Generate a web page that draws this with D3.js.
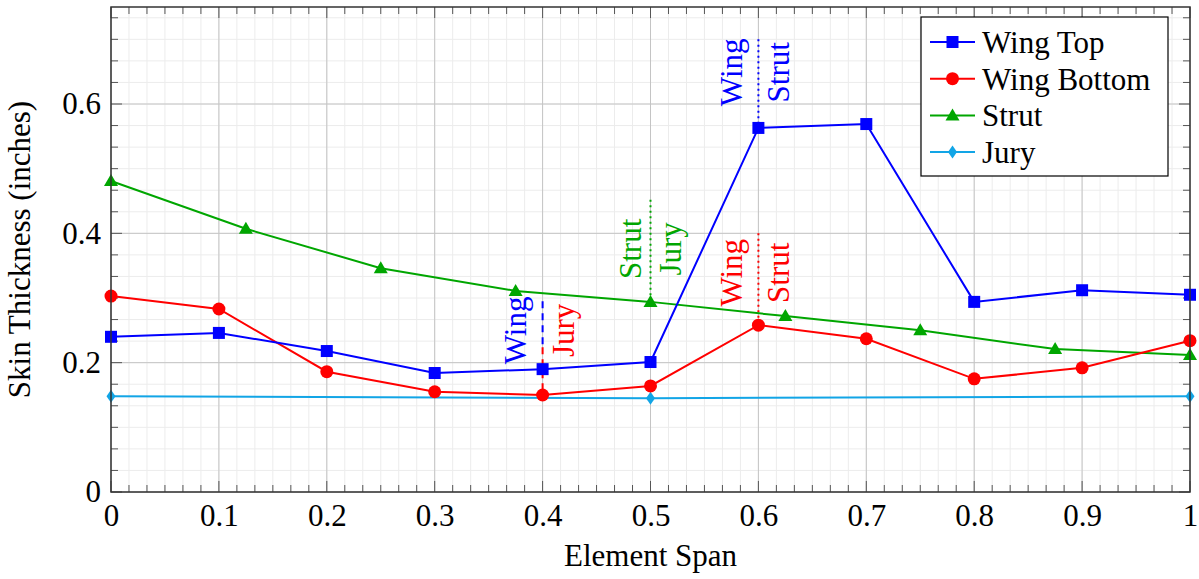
<!DOCTYPE html>
<html>
<head>
<meta charset="utf-8">
<script src="https://cdn.jsdelivr.net/npm/d3@7"></script>
<style>
  html, body { margin: 0; padding: 0; background: #fff; }
  svg { display: block; font-family: "Liberation Serif", "Times New Roman", serif; }
</style>
</head>
<body>
<svg id="chart" width="1199" height="579"></svg>
<script>
// ---------- data ----------
const wingX = [0, 0.1, 0.2, 0.3, 0.4, 0.5, 0.6, 0.7, 0.8, 0.9, 1.0];
const wingTop = [0.240, 0.246, 0.218, 0.184, 0.190, 0.201, 0.563, 0.569, 0.294, 0.312, 0.305];
const wingBottom = [0.303, 0.283, 0.186, 0.155, 0.150, 0.164, 0.258, 0.237, 0.175, 0.192, 0.234];
const strutX = [0, 0.125, 0.25, 0.375, 0.5, 0.625, 0.75, 0.875, 1.0];
const strut = [0.481, 0.407, 0.346, 0.311, 0.294, 0.272, 0.250, 0.221, 0.212];
const juryX = [0, 0.5, 1.0];
const jury = [0.148, 0.145, 0.148];

const xTickValues = [0, 0.1, 0.2, 0.3, 0.4, 0.5, 0.6, 0.7, 0.8, 0.9, 1];
const xTickLabels = ["0", "0.1", "0.2", "0.3", "0.4", "0.5", "0.6", "0.7", "0.8", "0.9", "1"];
const yTickValues = [0, 0.2, 0.4, 0.6];
const yTickLabels = ["0", "0.2", "0.4", "0.6"];

const seriesNames = ["Wing Top", "Wing Bottom", "Strut", "Jury"];
const seriesColors = ["#0000ff", "#ff0000", "#00a600", "#12a5e6"];
const seriesMarkers = ["square", "circle", "triangle", "diamond"];

// annotations: vertical separators and their labels
const annX = [0.4, 0.5, 0.6, 0.6];
const annTop = [0.295, 0.452, 0.700, 0.400];
const annBottom = [0.150, 0.294, 0.563, 0.258];
const annSplit = [0.224, null, null, null];          // colour change point
const annStyle = ["dashed", "dotted", "dotted", "dotted"];
const annColorTop = ["#0000ff", "#00a600", "#0000ff", "#ff0000"];
const annColorBottom = ["#ff0000", "#00a600", "#0000ff", "#ff0000"];
const annTextCenter = [0.250, 0.376, 0.649, 0.339];
const annLeftText = ["Wing", "Strut", "Wing", "Wing"];
const annRightText = ["Jury", "Jury", "Strut", "Strut"];
const annLeftColor = ["#0000ff", "#00a600", "#0000ff", "#ff0000"];
const annRightColor = ["#ff0000", "#00a600", "#0000ff", "#ff0000"];

// ---------- layout ----------
const W = 1199, H = 579;
const margin = { left: 111, right: 9, top: 7, bottom: 87 };
const FS = 31;
const svg = d3.select("#chart");
const x = d3.scaleLinear().domain([0, 1]).range([margin.left, W - margin.right]);
const y = d3.scaleLinear().domain([0, 0.75]).range([H - margin.bottom, margin.top]);
const x0 = x(0), x1 = x(1), y0 = y(0), y1 = y(0.75);

// minor grid
const xMinor = d3.range(0, 61).map(i => i / 60);
const yMinor = d3.range(0, 23).map(i => i / 30).filter(v => v <= 0.75);
const grid = svg.append("g");
grid.selectAll(".xm").data(xMinor).enter().append("line")
  .attr("x1", d => x(d)).attr("x2", d => x(d)).attr("y1", y0).attr("y2", y1)
  .attr("stroke", "#ececec").attr("stroke-width", 1);
grid.selectAll(".ym").data(yMinor).enter().append("line")
  .attr("x1", x0).attr("x2", x1).attr("y1", d => y(d)).attr("y2", d => y(d))
  .attr("stroke", "#ececec").attr("stroke-width", 1);
// major grid
grid.selectAll(".xM").data(xTickValues).enter().append("line")
  .attr("x1", d => x(d)).attr("x2", d => x(d)).attr("y1", y0).attr("y2", y1)
  .attr("stroke", "#c4c4c4").attr("stroke-width", 1);
grid.selectAll(".yM").data(yTickValues).enter().append("line")
  .attr("x1", x0).attr("x2", x1).attr("y1", d => y(d)).attr("y2", d => y(d))
  .attr("stroke", "#c4c4c4").attr("stroke-width", 1);

// ticks (inside, all four sides)
const ticks = svg.append("g").attr("stroke", "#555").attr("stroke-width", 1);
const minorLen = 7, majorLen = 11;
xMinor.forEach(v => {
  const len = xTickValues.some(t => Math.abs(t - v) < 1e-6) ? majorLen : minorLen;
  ticks.append("line").attr("x1", x(v)).attr("x2", x(v)).attr("y1", y0).attr("y2", y0 - len);
  ticks.append("line").attr("x1", x(v)).attr("x2", x(v)).attr("y1", y1).attr("y2", y1 + len);
});
yMinor.forEach(v => {
  const len = yTickValues.some(t => Math.abs(t - v) < 1e-6) ? majorLen : minorLen;
  ticks.append("line").attr("x1", x0).attr("x2", x0 + len).attr("y1", y(v)).attr("y2", y(v));
  ticks.append("line").attr("x1", x1).attr("x2", x1 - len).attr("y1", y(v)).attr("y2", y(v));
});

// axes via d3 (labels only)
const xAxis = d3.axisBottom(x).tickValues(xTickValues).tickFormat((d, i) => xTickLabels[i]).tickSize(0).tickPadding(12);
const gx = svg.append("g").attr("transform", `translate(0,${y0})`).call(xAxis);
gx.select(".domain").remove();
gx.selectAll("text").attr("font-size", FS).attr("fill", "#000").attr("font-family", "Liberation Serif, serif");
const yAxis = d3.axisLeft(y).tickValues(yTickValues).tickFormat((d, i) => yTickLabels[i]).tickSize(0).tickPadding(10);
const gy = svg.append("g").attr("transform", `translate(${x0},0)`).call(yAxis);
gy.select(".domain").remove();
gy.selectAll("text").attr("font-size", FS).attr("fill", "#000").attr("font-family", "Liberation Serif, serif");

// annotations
const ann = svg.append("g");
annX.forEach((ax, i) => {
  const dash = annStyle[i] === "dashed" ? "7,5" : "2,3.5";
  const split = annSplit[i] === null ? annBottom[i] : annSplit[i];
  ann.append("line").attr("x1", x(ax)).attr("x2", x(ax))
    .attr("y1", y(annTop[i])).attr("y2", y(split))
    .attr("stroke", annColorTop[i]).attr("stroke-width", 2).attr("stroke-dasharray", dash);
  if (annSplit[i] !== null) {
    ann.append("line").attr("x1", x(ax)).attr("x2", x(ax))
      .attr("y1", y(split)).attr("y2", y(annBottom[i]))
      .attr("stroke", annColorBottom[i]).attr("stroke-width", 2).attr("stroke-dasharray", dash);
  }
  const lt = annLeftText[i], rt = annRightText[i];
  const lDesc = /[gjpqy]/.test(lt) ? 0.217 * FS : 0;
  const lx = x(ax) - 10 - lDesc;
  ann.append("text").attr("transform", `translate(${lx},${y(annTextCenter[i])}) rotate(-90)`)
    .attr("text-anchor", "middle").attr("font-size", FS).attr("fill", annLeftColor[i]).text(lt);
  const rx = x(ax) + 10 + 0.676 * FS;
  ann.append("text").attr("transform", `translate(${rx},${y(annTextCenter[i])}) rotate(-90)`)
    .attr("text-anchor", "middle").attr("font-size", FS).attr("fill", annRightColor[i]).text(rt);
});

// markers
function drawMarker(g, type, cx, cy, color) {
  if (type === "square") {
    g.append("rect").attr("x", cx - 6).attr("y", cy - 6).attr("width", 12).attr("height", 12).attr("fill", color);
  } else if (type === "circle") {
    g.append("circle").attr("cx", cx).attr("cy", cy).attr("r", 6.5).attr("fill", color);
  } else if (type === "triangle") {
    g.append("path").attr("d", `M${cx},${cy - 7} L${cx + 7},${cy + 5} L${cx - 7},${cy + 5} Z`).attr("fill", color);
  } else if (type === "diamond") {
    g.append("path").attr("d", `M${cx},${cy - 6.5} L${cx + 4.5},${cy} L${cx},${cy + 6.5} L${cx - 4.5},${cy} Z`).attr("fill", color);
  }
}

// series
const seriesData = [
  wingX.map((v, i) => [v, wingTop[i]]),
  wingX.map((v, i) => [v, wingBottom[i]]),
  strutX.map((v, i) => [v, strut[i]]),
  juryX.map((v, i) => [v, jury[i]])
];
const line = d3.line().x(d => x(d[0])).y(d => y(d[1]));
const plot = svg.append("g");
// draw in reverse so Wing Top is on top
[3, 2, 1, 0].forEach(si => {
  plot.append("path").datum(seriesData[si]).attr("d", line)
    .attr("fill", "none").attr("stroke", seriesColors[si]).attr("stroke-width", 2);
  seriesData[si].forEach(d => drawMarker(plot, seriesMarkers[si], x(d[0]), y(d[1]), seriesColors[si]));
});

// axis box
svg.append("rect").attr("x", x0).attr("y", y1).attr("width", x1 - x0).attr("height", y0 - y1)
  .attr("fill", "none").attr("stroke", "#333").attr("stroke-width", 1.5);

// axis titles
svg.append("text").attr("x", (x0 + x1) / 2).attr("y", 566).attr("text-anchor", "middle")
  .attr("font-size", FS).attr("fill", "#000").text("Element Span");
svg.append("text").attr("transform", `translate(30,${(y0 + y1) / 2}) rotate(-90)`).attr("text-anchor", "middle")
  .attr("font-size", FS).attr("fill", "#000").text("Skin Thickness (inches)");

// legend
const lg = svg.append("g");
lg.append("rect").attr("x", 921).attr("y", 17).attr("width", 247).attr("height", 159)
  .attr("fill", "#fff").attr("stroke", "#000").attr("stroke-width", 1.2);
seriesNames.forEach((name, i) => {
  const cy = 42 + i * 36.7;
  lg.append("line").attr("x1", 930).attr("x2", 975).attr("y1", cy).attr("y2", cy)
    .attr("stroke", seriesColors[i]).attr("stroke-width", 2);
  drawMarker(lg, seriesMarkers[i], 952.5, cy, seriesColors[i]);
  lg.append("text").attr("x", 982).attr("y", cy).attr("dy", "0.35em")
    .attr("font-size", FS).attr("fill", "#000").text(name);
});
</script>
</body>
</html>
